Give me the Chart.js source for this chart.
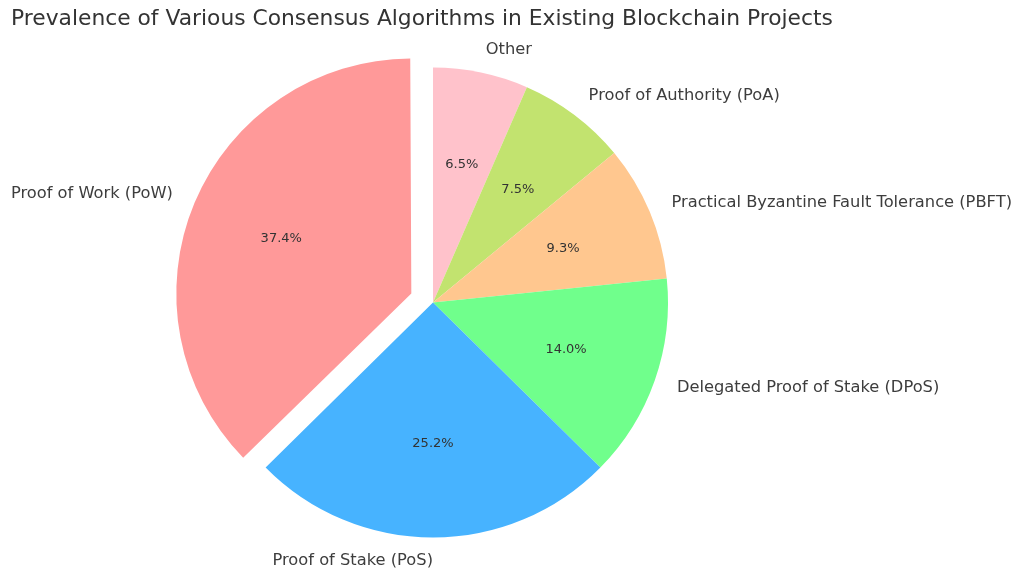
<!DOCTYPE html>
<html>
<head>
<meta charset="utf-8">
<script src="https://cdn.jsdelivr.net/npm/chart.js@4/dist/chart.umd.min.js"></script>
<style>
  html, body { margin: 0; padding: 0; background: #fff; }
  #wrap { width: 1024px; height: 580px; }
</style>
</head>
<body>
<div id="wrap"><canvas id="myChart" width="1024" height="580"></canvas></div>
<script>
// data, in the order the original lists it (counter-clockwise from 12 o'clock)
var labels = [
  'Proof of Work (PoW)',
  'Proof of Stake (PoS)',
  'Delegated Proof of Stake (DPoS)',
  'Practical Byzantine Fault Tolerance (PBFT)',
  'Proof of Authority (PoA)',
  'Other'
];
var projects = [40, 27, 15, 10, 8, 7];
var colors = ['#ff9999', '#47b3ff', '#70ff8c', '#ffc78f', '#c2e36f', '#ffc2cb'];
var explode = [1, 0, 0, 0, 0, 0];

var R = 235;       // pie radius
var SHIFT = 23.5;  // how far the exploded slice moves out

// chart.js goes clockwise, so flip everything
var cjsLabels = labels.slice().reverse();
var cjsData = projects.slice().reverse();
var cjsColors = colors.slice().reverse();
var cjsExplode = explode.slice().reverse();
var total = projects.reduce(function (a, b) { return a + b; }, 0);

var textColor = '#3d3d3d';
var fontFamily = '"DejaVu Sans", Verdana, sans-serif';

// arc offset in chart.js is divided by 4 when drawn, and it also grows the radius,
// so take that growth back off here
var fixRadius = {
  id: 'fixRadius',
  beforeDatasetsDraw: function (chart) {
    var meta = chart.getDatasetMeta(0);
    meta.data.forEach(function (arc, i) {
      if (cjsExplode[i]) {
        var fix = 1 - Math.sin(Math.min(Math.PI, arc.circumference));
        arc.outerRadius = R - SHIFT * fix;
      }
    });
  }
};

var sliceLabels = {
  id: 'sliceLabels',
  afterDatasetsDraw: function (chart) {
    var ctx = chart.ctx;
    var meta = chart.getDatasetMeta(0);
    ctx.save();
    meta.data.forEach(function (arc, i) {
      var mid = (arc.startAngle + arc.endAngle) / 2;
      var cx = arc.x, cy = arc.y;
      if (cjsExplode[i]) {
        cx += Math.cos(mid) * SHIFT;
        cy += Math.sin(mid) * SHIFT;
      }
      var cos = Math.cos(mid), sin = Math.sin(mid);

      // category name outside (a label straight below the centre goes to the left, like matplotlib)
      ctx.font = '16.3px ' + fontFamily;
      ctx.fillStyle = textColor;
      ctx.textBaseline = 'middle';
      ctx.textAlign = cos > 1e-6 ? 'left' : 'right';
      ctx.fillText(cjsLabels[i], cx + cos * R * 1.1, cy + sin * R * 1.1);

      // percentage inside
      ctx.font = '13px ' + fontFamily;
      ctx.fillStyle = '#333';
      ctx.textAlign = 'center';
      var pct = (cjsData[i] / total * 100).toFixed(1) + '%';
      ctx.fillText(pct, cx + cos * R * 0.6, cy + sin * R * 0.6);
    });
    ctx.restore();
  }
};

var pie_chart = document.getElementById('myChart');

var pieChart = new Chart(pie_chart, {
  type: 'pie',
  data: {
    labels: cjsLabels,
    datasets: [{
      data: cjsData,
      backgroundColor: cjsColors,
      borderWidth: 0,
      offset: cjsExplode.map(function (e) { return e ? SHIFT * 4 : 0; }),
      clip: false
    }]
  },
  options: {
    responsive: false,
    animation: false,
    events: [],
    radius: R,
    rotation: 0,
    layout: {
      padding: { left: 11, right: 169, top: 0, bottom: 10 }
    },
    plugins: {
      legend: { display: false },
      tooltip: { enabled: false },
      title: {
        display: true,
        text: 'Prevalence of Various Consensus Algorithms in Existing Blockchain Projects',
        align: 'start',
        color: '#333',
        font: { family: fontFamily, size: 21.8, weight: 'normal' },
        padding: { top: 6, bottom: 3 }
      }
    }
  },
  plugins: [fixRadius, sliceLabels]
});
</script>
</body>
</html>
